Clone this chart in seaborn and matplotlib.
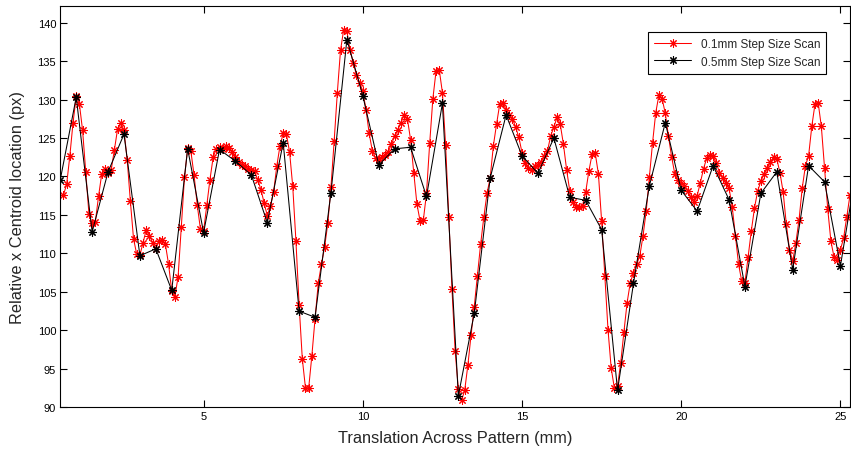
import numpy as np
import pandas as pd
import matplotlib
matplotlib.use("Agg")
import matplotlib.pyplot as plt
import seaborn as sns

# ---- data ----
fine_start = 0.6
fine_step = 0.1
fine_values = [
    117.6, 119.0, 122.7, 127.0, 130.4, 129.4, 126.0, 120.6, 115.1, 113.9,   # 0.6-1.5
    114.1, 117.4, 120.3, 121.0, 120.5, 120.9, 123.5, 126.2, 127.0, 126.0,   # 1.6-2.5
    122.2, 116.8, 111.9, 109.9, 109.8, 111.4, 113.1, 112.3, 111.4, 110.6,   # 2.6-3.5
    111.6, 111.7, 111.2, 108.6, 105.1, 104.4, 107.0, 113.4, 119.9, 123.7,   # 3.6-4.5
    123.3, 120.2, 116.3, 113.2, 112.9, 116.3, 119.6, 122.5, 123.6, 123.8,   # 4.6-5.5
    123.6, 123.9, 123.7, 123.2, 122.5, 121.9, 121.5, 121.3, 121.0, 120.9,   # 5.6-6.5
    120.7, 119.6, 118.3, 116.6, 114.9, 116.2, 118.0, 121.4, 124.0, 125.6,   # 6.6-7.5
    125.5, 123.2, 118.7, 111.6, 103.3, 96.3, 92.5, 92.5, 96.7, 101.5,       # 7.6-8.5
    106.1, 108.6, 110.8, 113.9, 118.6, 124.6, 130.9, 136.4, 139.1, 138.9,   # 8.6-9.5
    136.4, 134.8, 133.2, 132.2, 131.1, 128.7, 125.6, 123.3, 122.4, 122.2,   # 9.6-10.5
    122.5, 122.8, 123.2, 124.2, 125.3, 126.1, 127.0, 128.0, 127.5, 124.8,   # 10.6-11.5
    120.5, 116.4, 114.2, 114.3, 117.8, 124.3, 130.1, 133.7, 133.9, 130.9,   # 11.6-12.5
    124.1, 114.7, 105.4, 97.3, 92.4, 90.9, 92.2, 95.5, 99.4, 103.1,         # 12.6-13.5
    107.1, 111.2, 114.7, 117.8, 119.8, 124.0, 126.8, 129.4, 129.6, 128.7,   # 13.6-14.5
    128.0, 127.5, 126.4, 125.1, 123.1, 121.7, 121.1, 120.9, 121.3, 121.5,   # 14.6-15.5
    121.9, 122.6, 123.3, 125.3, 126.4, 127.7, 126.8, 124.2, 120.9, 118.1,   # 15.6-16.5
    116.7, 116.1, 116.0, 116.2, 118.0, 120.7, 122.9, 123.0, 120.3, 114.2,   # 16.6-17.5
    107.1, 100.1, 95.1, 92.5, 92.8, 95.8, 99.8, 103.6, 106.2, 107.5,        # 17.6-18.5
    108.6, 109.7, 112.3, 115.5, 119.9, 124.4, 128.3, 130.6, 130.1, 128.2,   # 18.6-19.5
    125.2, 122.5, 120.3, 119.5, 119.2, 118.8, 118.1, 117.3, 116.7, 117.5,   # 19.6-20.5
    119.2, 121.0, 122.4, 122.8, 122.6, 121.8, 120.5, 119.8, 119.2, 118.5,   # 20.6-21.5
    116.1, 112.3, 108.6, 106.4, 106.2, 109.5, 112.9, 115.9, 118.1, 119.4,   # 21.6-22.5
    120.3, 121.1, 121.9, 122.5, 122.3, 120.5, 118.0, 113.8, 110.5, 109.0,   # 22.6-23.5
    111.4, 114.4, 118.5, 121.4, 122.7, 126.5, 129.4, 129.6, 126.5, 121.1,   # 23.6-24.5
    115.8, 111.6, 109.5, 109.2, 110.5, 112.0, 114.8, 117.6,                 # 24.6-25.3
]

coarse_start = 0.5
coarse_step = 0.5
coarse_values = [
    119.6, 130.3, 112.8, 120.6, 125.5, 109.7, 110.6, 105.2, 123.6, 112.7,   # 0.5-5.0
    123.5, 122.0, 120.2, 114.0, 124.4, 102.5, 101.7, 117.9, 137.8, 130.5,   # 5.5-10.0
    121.5, 123.6, 123.8, 117.4, 129.5, 91.5, 102.2, 119.8, 128.0, 122.7,    # 10.5-15.0
    120.4, 125.0, 117.3, 116.9, 113.1, 92.2, 106.1, 118.8, 127.0, 118.2,    # 15.5-20.0
    115.5, 121.4, 117.0, 105.7, 117.8, 120.6, 107.9, 121.4, 119.3, 108.4,   # 20.5-25.0
    121.0,                                                                   # 25.5
]

series_labels = ["0.1mm Step Size Scan", "0.5mm Step Size Scan"]
x_label = "Translation Across Pattern (mm)"
y_label = "Relative x Centroid location (px)"
x_ticks = [5, 10, 15, 20, 25]
y_ticks = [90, 95, 100, 105, 110, 115, 120, 125, 130, 135, 140]

fine_x = np.round(fine_start + fine_step * np.arange(len(fine_values)), 2)
coarse_x = np.round(coarse_start + coarse_step * np.arange(len(coarse_values)), 2)
fine_df = pd.DataFrame({"x": fine_x, "y": fine_values})
coarse_df = pd.DataFrame({"x": coarse_x, "y": coarse_values})

# ---- style ----
sns.set_style("ticks")
plt.rcParams["font.family"] = ["Liberation Sans", "DejaVu Sans"]
plt.rcParams["xtick.direction"] = "in"
plt.rcParams["ytick.direction"] = "in"

fig = plt.figure(figsize=(8.51, 4.52), dpi=100)
ax = fig.add_axes([60.3 / 851, 43.7 / 452, (850 - 60.3) / 851, (408.3 - 6.7) / 452])

asterisk = (8, 2, 0)
sns.lineplot(data=fine_df, x="x", y="y", ax=ax, color="red", linewidth=0.75,
             marker=asterisk, markersize=6, markeredgecolor="red",
             markeredgewidth=0.75, sort=False, estimator=None,
             label=series_labels[0])
sns.lineplot(data=coarse_df, x="x", y="y", ax=ax, color="black", linewidth=0.75,
             marker=asterisk, markersize=6, markeredgecolor="black",
             markeredgewidth=0.8, sort=False, estimator=None,
             label=series_labels[1])

ax.set_xlim(0.5, 25.3)
ax.set_ylim(90, 142.2)
ax.set_xticks(x_ticks)
ax.set_yticks(y_ticks)
ax.tick_params(axis="both", which="both", direction="in", length=5, width=0.8,
               top=True, right=True, labelsize=8, colors="black", pad=3)
for s in ax.spines.values():
    s.set_visible(True)
    s.set_linewidth(0.8)
    s.set_color("black")

ax.set_xlabel(x_label, fontsize=11.8, labelpad=6)
ax.set_ylabel(y_label, fontsize=11.8, labelpad=9)

leg = ax.legend(loc="upper right", bbox_to_anchor=(0.970, 0.935), borderaxespad=0,
                fontsize=8.5, frameon=True, fancybox=False, edgecolor="black",
                framealpha=1, handlelength=3.2, borderpad=0.5, labelspacing=0.5)
leg.get_frame().set_linewidth(0.8)

fig.savefig("out.png", dpi=100)
